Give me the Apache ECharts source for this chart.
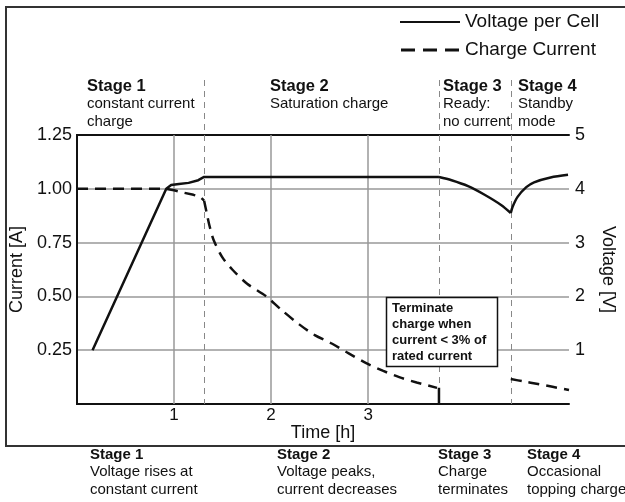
<!DOCTYPE html>
<html>
<head>
<meta charset="utf-8">
<title>Charge stages</title>
<script src="https://cdn.jsdelivr.net/npm/echarts@6/dist/echarts.min.js"></script>
<style>
  html, body { margin: 0; padding: 0; background: #fff; }
  #chart { width: 625px; height: 502px; }
</style>
</head>
<body>
<div id="chart"></div>
<script>
// values: time in hours, current in A, voltage in V
var voltageRise = [
  [0.16, 1.0], [0.92, 4.0], [0.97, 4.07], [1.05, 4.09], [1.15, 4.11], [1.25, 4.16], [1.31, 4.22],
  [3.73, 4.22]
];
var voltageRest = [[3.73, 4.22], [3.86, 4.16], [4.03, 4.05], [4.2, 3.89], [4.37, 3.7], [4.47, 3.55]];
var voltageTopping = [[4.47, 3.55], [4.49, 3.67], [4.54, 3.85], [4.63, 4.03], [4.71, 4.12], [4.88, 4.21], [5.06, 4.26]];
var currentConst = [
  [0, 1.0], [0.92, 1.0], [1.0, 0.993], [1.1, 0.982], [1.2, 0.972], [1.27, 0.962], [1.31, 0.945]
];
var currentDecay = [
  [1.31, 0.945], [1.34, 0.88], [1.37, 0.82], [1.41, 0.76], [1.5, 0.68], [1.6, 0.625], [1.75, 0.56],
  [1.95, 0.5], [2.1, 0.44], [2.29, 0.37], [2.45, 0.32], [2.63, 0.28], [2.8, 0.235], [2.98, 0.19],
  [3.15, 0.155], [3.32, 0.125], [3.5, 0.1], [3.71, 0.075]
];
var toppingCurrent = [[4.47, 0.116], [4.6, 0.105], [4.75, 0.093], [4.9, 0.08], [5.07, 0.065]];
var cutoffCurrent = [[3.73, 0.075], [3.73, 0]];
var stageBounds = [1.31, 3.73, 4.47];
var timeGrid = [1, 2, 3];
var timeLabels = ['1', '2', '3'];
var currentLabels = ['0.25', '0.50', '0.75', '1.00', '1.25'];
var voltageLabels = ['1', '2', '3', '4', '5'];

var topNotes = [
  ['Stage 1', 'constant current', 'charge'],
  ['Stage 2', 'Saturation charge'],
  ['Stage 3', 'Ready:', 'no current'],
  ['Stage 4', 'Standby', 'mode']
];
var bottomNotes = [
  ['Stage 1', 'Voltage rises at', 'constant current'],
  ['Stage 2', 'Voltage peaks,', 'current decreases'],
  ['Stage 3', 'Charge', 'terminates'],
  ['Stage 4', 'Occasional', 'topping charge']
];
var boxNote = ['Terminate', 'charge when', 'current < 3% of', 'rated current'];

var FONT = '"Liberation Sans", Arial, sans-serif';
var chart = echarts.init(document.getElementById('chart'));

function noteText(lines, x, y, headSize) {
  return {
    type: 'text', x: x, y: y, z: 10,
    style: {
      text: '{b|' + lines[0] + '}\n' + lines.slice(1).join('\n'),
      fontFamily: FONT, fontSize: 15, lineHeight: 17.5, fill: '#111',
      verticalAlign: 'top',
      rich: { b: { fontWeight: 'bold', fontFamily: FONT, fontSize: headSize, lineHeight: 17.5, fill: '#111' } }
    }
  };
}

function curve(name, data, yIdx, dashed, smooth) {
  return {
    name: name, type: 'line', yAxisIndex: yIdx, data: data, z: 5,
    showSymbol: false, color: '#111',
    smooth: smooth ? 0.3 : false,
    lineStyle: { color: '#111', width: 2.5, type: dashed ? [11, 7] : 'solid' }
  };
}

var option = {
  animation: false,
  textStyle: { fontFamily: FONT },
  grid: { left: 77, right: 54, top: 135, bottom: 98, containLabel: false },
  legend: {
    orient: 'vertical', left: 395, top: 7, itemWidth: 60, itemHeight: 3, itemGap: 8,
    textStyle: { fontSize: 19, color: '#111', fontFamily: FONT, lineHeight: 20 },
    itemStyle: { borderWidth: 0 },
    data: [
      { name: 'Voltage per Cell', icon: 'path://M0,0h60v2h-60z' },
      { name: 'Charge Current', icon: 'path://M0,0h14v3h-14z M22,0h14v3h-14z M44,0h14v3h-14z' }
    ]
  },
  xAxis: [{
    type: 'value', min: 0, max: 5.07, interval: 1,
    name: 'Time [h]', nameLocation: 'middle', nameGap: 20, nameMoveOverlap: false,
    nameTextStyle: { fontSize: 18, color: '#111', fontFamily: FONT },
    axisLine: { show: true, lineStyle: { color: '#111', width: 2 } },
    axisTick: { show: false },
    splitLine: { show: false },
    axisLabel: {
      fontSize: 17, color: '#111', margin: 3, showMaxLabel: false,
      formatter: function (v) { return timeLabels.indexOf(String(v)) >= 0 ? String(v) : ''; }
    }
  }, {
    type: 'value', min: 0, max: 5.07, position: 'top',
    axisLine: { show: true, onZero: false, lineStyle: { color: '#111', width: 2 } },
    axisTick: { show: false }, axisLabel: { show: false }, splitLine: { show: false }
  }],
  yAxis: [{
    type: 'value', min: 0, max: 1.25, interval: 0.25, position: 'left',
    name: 'Current [A]', nameLocation: 'middle', nameGap: 47,
    nameTextStyle: { fontSize: 18, color: '#111', fontFamily: FONT },
    axisLine: { show: true, lineStyle: { color: '#111', width: 2 } },
    axisTick: { show: false },
    splitLine: { show: true, lineStyle: { color: '#999', width: 1.5 } },
    axisLabel: {
      fontSize: 18, color: '#111', margin: 5,
      formatter: function (v) { var s = v.toFixed(2); return currentLabels.indexOf(s) >= 0 ? s : ''; }
    }
  }, {
    type: 'value', min: 0, max: 5, interval: 1, position: 'right',
    name: 'Voltage [V]', nameLocation: 'middle', nameGap: 30, nameRotate: -90,
    nameTextStyle: { fontSize: 18, color: '#111', fontFamily: FONT },
    axisLine: { show: true, lineStyle: { color: '#111', width: 2 } },
    axisTick: { show: false },
    splitLine: { show: false },
    axisLabel: {
      fontSize: 18, color: '#111', margin: 6,
      formatter: function (v) { return voltageLabels.indexOf(String(v)) >= 0 ? String(v) : ''; }
    }
  }],
  series: [
    {
      name: 'grid', type: 'line', data: [], z: 1, silent: true,
      markLine: {
        silent: true, symbol: 'none', label: { show: false },
        lineStyle: { color: '#999', width: 1.5, type: 'solid' },
        data: timeGrid.map(function (t) { return { xAxis: t }; })
      }
    },
    curve('Voltage per Cell', voltageRise, 1, false, false),
    curve('Voltage per Cell', voltageRest, 1, false, true),
    curve('Voltage per Cell', voltageTopping, 1, false, true),
    curve('Charge Current', currentConst, 0, true, false),
    curve('Charge Current', currentDecay, 0, true, true),
    curve('Charge Current', toppingCurrent, 0, true, true),
    curve('cutoff', cutoffCurrent, 0, false, false)
  ]
};
chart.setOption(option);

// stage boundaries reach above the plot into the label band
var plotBottom = chart.convertToPixel({ yAxisIndex: 0 }, 0);
var graphics = [{
  type: 'rect', z: 0, silent: true,
  shape: { x: 6, y: 7, width: 660, height: 439 },
  style: { fill: 'none', stroke: '#333', lineWidth: 2 }
}];
stageBounds.forEach(function (t) {
  var px = Math.round(chart.convertToPixel({ xAxisIndex: 0 }, t)) + 0.5;
  graphics.push({
    type: 'line', z: 2, silent: true,
    shape: { x1: px, y1: 80, x2: px, y2: plotBottom },
    style: { stroke: '#888', lineWidth: 1, lineDash: [6, 5] }
  });
});
var topX = [87, 270, 443, 518];
topNotes.forEach(function (lines, i) { graphics.push(noteText(lines, topX[i], 78, 16.5)); });
var bottomX = [90, 277, 438, 527];
bottomNotes.forEach(function (lines, i) { graphics.push(noteText(lines, bottomX[i], 446, 15)); });
graphics.push({
  type: 'rect', z: 8, silent: true,
  shape: { x: 386.5, y: 297.5, width: 111, height: 69 },
  style: { fill: '#fff', stroke: '#111', lineWidth: 1.5 }
});
graphics.push({
  type: 'text', x: 392, y: 300, z: 9,
  style: {
    text: boxNote.join('\n'), fontFamily: FONT, fontSize: 13, fontWeight: 'bold',
    lineHeight: 16, fill: '#111', verticalAlign: 'top'
  }
});
chart.setOption({ graphic: graphics });
</script>
</body>
</html>
